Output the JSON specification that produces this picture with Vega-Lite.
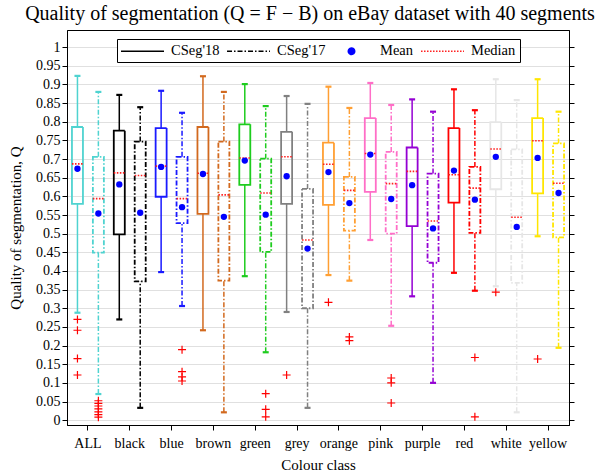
{
  "$schema": "https://vega.github.io/schema/vega-lite/v6.json",
  "autosize": "none",
  "width": 502,
  "height": 395,
  "padding": {"left": 67, "top": 30, "right": 45, "bottom": 47},
  "background": "white",
  "title": {"text": "Quality of segmentation (Q = F − B) on eBay dataset with 40 segments", "font": "Liberation Serif", "fontSize": 20, "fontWeight": "normal", "color": "black", "offset": 6, "anchor": "middle", "dx": -8},
  "config": {
    "view": {"stroke": "black", "strokeWidth": 1},
    "axis": {"labelFont": "Liberation Serif", "labelFontSize": 14, "labelColor": "black", "titleFont": "Liberation Serif", "titleFontSize": 15, "titleFontWeight": "normal", "titleColor": "black", "domainColor": "black", "tickColor": "black", "tickSize": 5, "gridColor": "#e0e0e0", "gridWidth": 1}
  },
  "datasets": {
    "boxes": [
      {"cls": "ALL", "series": "CSeg'18", "lo": 0.288, "q1": 0.580, "med": 0.687, "mean": 0.674, "q3": 0.786, "hi": 0.923},
      {"cls": "ALL", "series": "CSeg'17", "lo": 0.070, "q1": 0.449, "med": 0.594, "mean": 0.554, "q3": 0.706, "hi": 0.880},
      {"cls": "black", "series": "CSeg'18", "lo": 0.270, "q1": 0.498, "med": 0.663, "mean": 0.632, "q3": 0.776, "hi": 0.872},
      {"cls": "black", "series": "CSeg'17", "lo": 0.033, "q1": 0.372, "med": 0.656, "mean": 0.556, "q3": 0.747, "hi": 0.839},
      {"cls": "blue", "series": "CSeg'18", "lo": 0.397, "q1": 0.599, "med": 0.681, "mean": 0.679, "q3": 0.783, "hi": 0.883},
      {"cls": "blue", "series": "CSeg'17", "lo": 0.306, "q1": 0.528, "med": 0.594, "mean": 0.571, "q3": 0.706, "hi": 0.824},
      {"cls": "brown", "series": "CSeg'18", "lo": 0.241, "q1": 0.553, "med": 0.662, "mean": 0.660, "q3": 0.786, "hi": 0.922},
      {"cls": "brown", "series": "CSeg'17", "lo": 0.021, "q1": 0.374, "med": 0.604, "mean": 0.545, "q3": 0.747, "hi": 0.880},
      {"cls": "green", "series": "CSeg'18", "lo": 0.386, "q1": 0.631, "med": 0.703, "mean": 0.696, "q3": 0.793, "hi": 0.901},
      {"cls": "green", "series": "CSeg'17", "lo": 0.182, "q1": 0.451, "med": 0.609, "mean": 0.551, "q3": 0.701, "hi": 0.842},
      {"cls": "grey", "series": "CSeg'18", "lo": 0.290, "q1": 0.580, "med": 0.706, "mean": 0.654, "q3": 0.773, "hi": 0.869},
      {"cls": "grey", "series": "CSeg'17", "lo": 0.033, "q1": 0.300, "med": 0.483, "mean": 0.460, "q3": 0.620, "hi": 0.848},
      {"cls": "orange", "series": "CSeg'18", "lo": 0.389, "q1": 0.577, "med": 0.686, "mean": 0.665, "q3": 0.744, "hi": 0.894},
      {"cls": "orange", "series": "CSeg'17", "lo": 0.374, "q1": 0.508, "med": 0.616, "mean": 0.582, "q3": 0.652, "hi": 0.837},
      {"cls": "pink", "series": "CSeg'18", "lo": 0.483, "q1": 0.612, "med": 0.715, "mean": 0.712, "q3": 0.810, "hi": 0.904},
      {"cls": "pink", "series": "CSeg'17", "lo": 0.253, "q1": 0.500, "med": 0.634, "mean": 0.593, "q3": 0.719, "hi": 0.845},
      {"cls": "purple", "series": "CSeg'18", "lo": 0.332, "q1": 0.520, "med": 0.667, "mean": 0.630, "q3": 0.731, "hi": 0.860},
      {"cls": "purple", "series": "CSeg'17", "lo": 0.100, "q1": 0.422, "med": 0.534, "mean": 0.514, "q3": 0.661, "hi": 0.827},
      {"cls": "red", "series": "CSeg'18", "lo": 0.395, "q1": 0.583, "med": 0.658, "mean": 0.669, "q3": 0.783, "hi": 0.887},
      {"cls": "red", "series": "CSeg'17", "lo": 0.347, "q1": 0.502, "med": 0.622, "mean": 0.591, "q3": 0.679, "hi": 0.831},
      {"cls": "white", "series": "CSeg'18", "lo": 0.359, "q1": 0.619, "med": 0.727, "mean": 0.706, "q3": 0.799, "hi": 0.914},
      {"cls": "white", "series": "CSeg'17", "lo": 0.021, "q1": 0.368, "med": 0.544, "mean": 0.518, "q3": 0.726, "hi": 0.858},
      {"cls": "yellow", "series": "CSeg'18", "lo": 0.493, "q1": 0.608, "med": 0.749, "mean": 0.703, "q3": 0.810, "hi": 0.914},
      {"cls": "yellow", "series": "CSeg'17", "lo": 0.194, "q1": 0.490, "med": 0.635, "mean": 0.609, "q3": 0.742, "hi": 0.827}
    ],
    "outliers": [
      {"cls": "ALL", "series": "CSeg'18", "value": 0.270},
      {"cls": "ALL", "series": "CSeg'18", "value": 0.241},
      {"cls": "ALL", "series": "CSeg'18", "value": 0.165},
      {"cls": "ALL", "series": "CSeg'18", "value": 0.121},
      {"cls": "ALL", "series": "CSeg'17", "value": 0.052},
      {"cls": "ALL", "series": "CSeg'17", "value": 0.045},
      {"cls": "ALL", "series": "CSeg'17", "value": 0.038},
      {"cls": "ALL", "series": "CSeg'17", "value": 0.030},
      {"cls": "ALL", "series": "CSeg'17", "value": 0.022},
      {"cls": "ALL", "series": "CSeg'17", "value": 0.015},
      {"cls": "ALL", "series": "CSeg'17", "value": 0.008},
      {"cls": "blue", "series": "CSeg'17", "value": 0.189},
      {"cls": "blue", "series": "CSeg'17", "value": 0.130},
      {"cls": "blue", "series": "CSeg'17", "value": 0.116},
      {"cls": "blue", "series": "CSeg'17", "value": 0.105},
      {"cls": "green", "series": "CSeg'17", "value": 0.071},
      {"cls": "green", "series": "CSeg'17", "value": 0.029},
      {"cls": "green", "series": "CSeg'17", "value": 0.009},
      {"cls": "grey", "series": "CSeg'18", "value": 0.121},
      {"cls": "orange", "series": "CSeg'18", "value": 0.316},
      {"cls": "orange", "series": "CSeg'17", "value": 0.223},
      {"cls": "orange", "series": "CSeg'17", "value": 0.213},
      {"cls": "pink", "series": "CSeg'17", "value": 0.113},
      {"cls": "pink", "series": "CSeg'17", "value": 0.100},
      {"cls": "pink", "series": "CSeg'17", "value": 0.046},
      {"cls": "red", "series": "CSeg'17", "value": 0.168},
      {"cls": "red", "series": "CSeg'17", "value": 0.009},
      {"cls": "white", "series": "CSeg'18", "value": 0.343},
      {"cls": "yellow", "series": "CSeg'18", "value": 0.164}
    ],
    "legendKeys": [
      {"series": "CSeg'18"},
      {"series": "CSeg'17"},
      {"series": "Mean"},
      {"series": "Median"}
    ]
  },
  "encoding": {
    "x": {"field": "cls", "type": "nominal", "sort": null,
      "scale": {"domain": ["ALL", "black", "blue", "brown", "green", "grey", "orange", "pink", "purple", "red", "white", "yellow"], "paddingInner": 0, "paddingOuter": 0},
      "axis": {"title": "Colour class", "labelAngle": 0, "labelPadding": 6, "grid": false, "titlePadding": 7}},
    "xOffset": {"field": "series", "type": "nominal", "sort": null,
      "scale": {"domain": ["CSeg'18", "CSeg'17"], "paddingInner": 0, "paddingOuter": 0}}
  },
  "resolve": {
    "axis": {"y": "independent"},
    "scale": {"strokeDash": "independent", "shape": "independent", "stroke": "independent", "fill": "independent"},
    "legend": {"strokeDash": "independent", "shape": "independent", "stroke": "independent", "fill": "independent"}
  },
  "layer": [
    {
      "data": {"name": "boxes"},
      "mark": {"type": "rule", "strokeWidth": 1.5},
      "encoding": {
        "y": {"field": "lo", "type": "quantitative", "scale": {"domain": [-0.013, 1.046], "nice": false, "zero": false},
          "axis": {"orient": "left", "title": "Quality of segmentation, Q", "values": [0, 0.05, 0.1, 0.15, 0.2, 0.25, 0.3, 0.35, 0.4, 0.45, 0.5, 0.55, 0.6, 0.65, 0.7, 0.75, 0.8, 0.85, 0.9, 0.95, 1], "format": "~g", "grid": true, "titlePadding": 12}},
        "y2": {"field": "q1"},
        "color": {"field": "cls", "type": "nominal", "legend": null,
          "scale": {"domain": ["ALL", "black", "blue", "brown", "green", "grey", "orange", "pink", "purple", "red", "white", "yellow"],
            "range": ["#4fd3d0", "#000000", "#1a1aff", "#d2691e", "#1ecc1e", "#808080", "#ff9f33", "#ff6ec7", "#9400d3", "#ff0000", "#e6e6e6", "#ffe600"]}},
        "strokeDash": {"field": "series", "type": "nominal", "legend": null,
          "scale": {"domain": ["CSeg'18", "CSeg'17"], "range": [[1, 0], [5, 2, 1.5, 2]]}}
      }
    },
    {
      "data": {"name": "boxes"},
      "mark": {"type": "rule", "strokeWidth": 1.5},
      "encoding": {
        "y": {"field": "q3", "type": "quantitative", "scale": {"domain": [-0.013, 1.046], "nice": false, "zero": false},
          "axis": {"orient": "right", "title": null, "labels": false, "values": [0, 0.05, 0.1, 0.15, 0.2, 0.25, 0.3, 0.35, 0.4, 0.45, 0.5, 0.55, 0.6, 0.65, 0.7, 0.75, 0.8, 0.85, 0.9, 0.95, 1], "grid": false}},
        "y2": {"field": "hi"},
        "color": {"field": "cls", "type": "nominal", "legend": null},
        "strokeDash": {"field": "series", "type": "nominal", "legend": null,
          "scale": {"domain": ["CSeg'18", "CSeg'17"], "range": [[1, 0], [5, 2, 1.5, 2]]}}
      }
    },
    {
      "data": {"name": "boxes"},
      "mark": {"type": "bar", "filled": false, "width": 11, "strokeWidth": 1.8},
      "encoding": {
        "y": {"field": "q1", "type": "quantitative", "axis": null},
        "y2": {"field": "q3"},
        "color": {"field": "cls", "type": "nominal", "legend": null},
        "strokeDash": {"field": "series", "type": "nominal", "legend": null,
          "scale": {"domain": ["CSeg'18", "CSeg'17"], "range": [[1, 0], [5, 2, 1.5, 2]]}}
      }
    },
    {
      "data": {"name": "boxes"},
      "mark": {"type": "point", "shape": "M-1,0H1", "size": 36, "strokeWidth": 2.2, "opacity": 1},
      "encoding": {
        "y": {"field": "lo", "type": "quantitative", "axis": null},
        "color": {"field": "cls", "type": "nominal", "legend": null}
      }
    },
    {
      "data": {"name": "boxes"},
      "mark": {"type": "point", "shape": "M-1,0H1", "size": 36, "strokeWidth": 2.2, "opacity": 1},
      "encoding": {
        "y": {"field": "hi", "type": "quantitative", "axis": null},
        "color": {"field": "cls", "type": "nominal", "legend": null}
      }
    },
    {
      "data": {"name": "boxes"},
      "mark": {"type": "point", "shape": "M-1,0H-0.72M-0.45,0H-0.17M0.1,0H0.38M0.65,0H0.93", "size": 121, "strokeWidth": 1.6, "stroke": "#ff2020", "opacity": 1},
      "encoding": {
        "y": {"field": "med", "type": "quantitative", "axis": null}
      }
    },
    {
      "data": {"name": "boxes"},
      "mark": {"type": "point", "shape": "circle", "filled": true, "size": 40, "color": "#0000ff", "opacity": 1},
      "encoding": {
        "y": {"field": "mean", "type": "quantitative", "axis": null}
      }
    },
    {
      "data": {"name": "outliers"},
      "mark": {"type": "point", "shape": "M-1,0H1M0,-1V1", "size": 64, "strokeWidth": 1.2, "stroke": "#ff0000", "opacity": 1},
      "encoding": {
        "y": {"field": "value", "type": "quantitative", "axis": null}
      }
    },
    {
      "data": {"name": "legendKeys"},
      "transform": [{"filter": "false"}],
      "mark": {"type": "point", "size": 205, "strokeWidth": 1.5, "opacity": 1},
      "encoding": {
        "x": {"value": 0},
        "xOffset": {"value": 0},
        "y": {"value": 0},
        "shape": {"field": "series", "type": "nominal",
          "scale": {"domain": ["CSeg'18", "CSeg'17", "Mean", "Median"], "range": ["M-3,0H3", "M-3,0H3", "M-0.45,0A0.45,0.45 0 1,1 0.45,0A0.45,0.45 0 1,1 -0.45,0Z", "M-3,0H3"]},
          "legend": {"orient": "none", "legendX": 50, "legendY": 9, "direction": "horizontal", "title": null, "strokeColor": "black", "fillColor": "white", "padding": 4, "columnPadding": 4, "symbolSize": 205, "symbolOffset": 13.5, "symbolStrokeWidth": 1.5, "labelFont": "Liberation Serif", "labelFontSize": 14.5, "labelColor": "black", "labelOffset": 20.5}},
        "stroke": {"field": "series", "type": "nominal",
          "scale": {"domain": ["CSeg'18", "CSeg'17", "Mean", "Median"], "range": ["#000000", "#000000", "#0000ff", "#ff2020"]}},
        "fill": {"field": "series", "type": "nominal",
          "scale": {"domain": ["CSeg'18", "CSeg'17", "Mean", "Median"], "range": ["transparent", "transparent", "#0000ff", "transparent"]}},
        "strokeDash": {"field": "series", "type": "nominal",
          "scale": {"domain": ["CSeg'18", "CSeg'17", "Mean", "Median"], "range": [[1, 0], [5, 2, 1.5, 2], [1, 0], [1.5, 1.5]]}}
      }
    }
  ]
}
